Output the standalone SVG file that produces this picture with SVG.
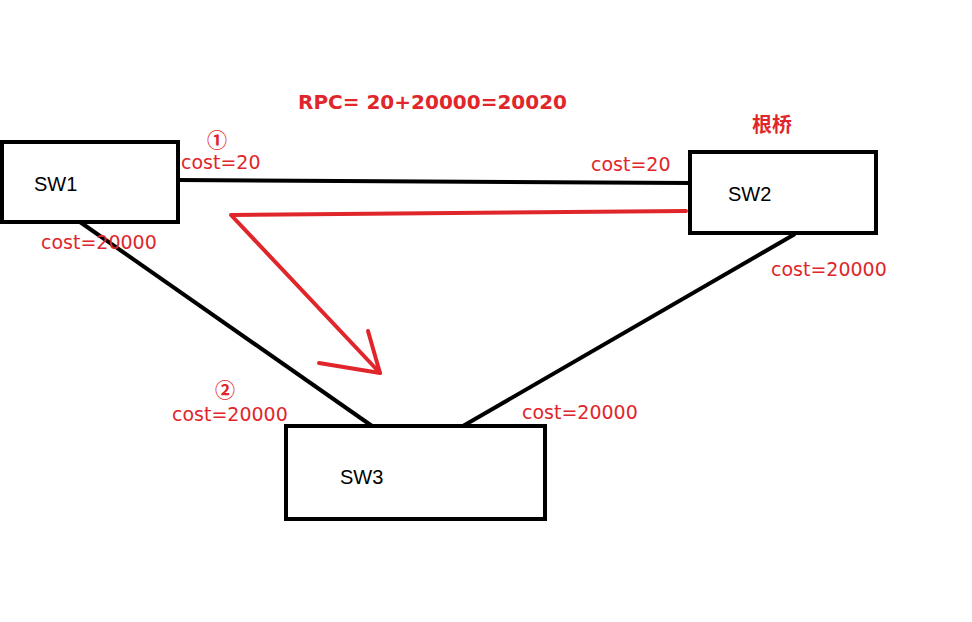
<svg xmlns="http://www.w3.org/2000/svg" width="972" height="622" viewBox="0 0 972 622">
<style>
.box{fill:#fff;stroke:#000;stroke-width:4}
.ln{stroke:#000;stroke-width:4;fill:none}
.t{font-family:"Liberation Sans",Arial,sans-serif;font-size:20px;fill:#000}
.c{font-family:"DejaVu Sans",sans-serif;font-size:19px;fill:#e0262b}
.n{font-family:"Noto Sans CJK SC",sans-serif;font-size:20px;font-weight:bold;fill:#e0262b}
.b{font-family:"DejaVu Sans","Noto Sans CJK SC",sans-serif;font-size:20px;font-weight:bold;fill:#e0262b}
.r{stroke:#e0262b;stroke-width:4;fill:none;stroke-linecap:round;stroke-linejoin:round}
</style>
<rect width="972" height="622" fill="#fff"/>
<g id="connectors">
<line class="ln" x1="178" y1="180" x2="690" y2="183"/>
<line class="ln" x1="80" y1="222" x2="372" y2="426"/>
<line class="ln" x1="795" y1="234" x2="463" y2="426"/>
<polyline class="r" points="686,211 231,215 380,373"/>
<polyline class="r" points="368,331 380,373 319,363"/>
</g>
<g id="sw1"><rect class="box" x="2" y="142" width="176" height="80"/><text class="t" x="34" y="191">SW1</text></g>
<g id="sw2"><rect class="box" x="690" y="152" width="186" height="81"/><text class="t" x="728" y="201">SW2</text></g>
<g id="sw3"><rect class="box" x="286" y="426" width="259" height="93"/><text class="t" x="340" y="484">SW3</text></g>
<g id="labels">
<text class="b" x="298" y="109">RPC= 20+20000=20020</text>
<text class="b" x="752" y="132">根桥</text>
<text class="n" x="207" y="148">①</text>
<text class="c" x="181" y="169">cost=20</text>
<text class="c" x="591" y="171">cost=20</text>
<text class="c" x="41" y="249">cost=20000</text>
<text class="c" x="771" y="276">cost=20000</text>
<text class="n" x="215" y="398">②</text>
<text class="c" x="172" y="421">cost=20000</text>
<text class="c" x="522" y="419">cost=20000</text>
</g>
</svg>
